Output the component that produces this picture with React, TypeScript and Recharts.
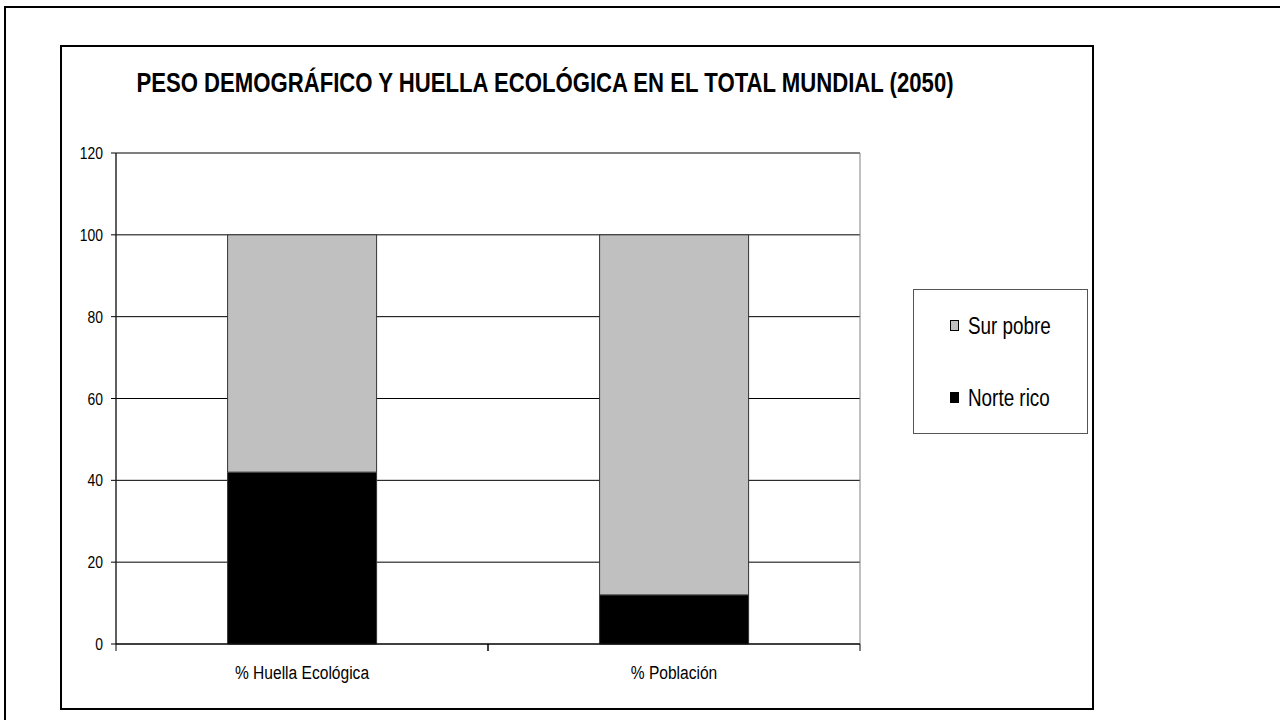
import React from "react";
import {
    BarChart,
    Bar,
    XAxis,
    YAxis,
    CartesianGrid,
    Legend,
    ReferenceArea
} from "recharts";

const categories = ["% Huella Ecológica", "% Población"];
const norteRico = [42, 12];
const surPobre = [58, 88];
const yTicks = [0, 20, 40, 60, 80, 100, 120];

const data = categories.map((category, i) => ({
    category,
    norte: norteRico[i],
    sur: surPobre[i]
}));

// no narrow font installed, so squeeze Liberation Sans horizontally
const FONT = "'Liberation Sans', Arial, sans-serif";
const SQUEEZE = 0.82;

function CategoryTick(props: any) {
    const { x, y, payload } = props;
    const half = payload.offset || 0;
    return (
        <g>
            <line x1={x - half} x2={x - half} y1={y} y2={y + 7} stroke="#000" />
            <line x1={x + half} x2={x + half} y1={y} y2={y + 7} stroke="#000" />
            <text
                transform={`translate(${x},${y + 35}) scale(${SQUEEZE},1)`}
                textAnchor="middle"
                fontSize={19}
                fill="#000"
                fontFamily={FONT}
            >
                {payload.value}
            </text>
        </g>
    );
}

function ValueTick(props: any) {
    const { x, y, payload } = props;
    return (
        <text
            transform={`translate(${x},${y + 6}) scale(${SQUEEZE},1)`}
            textAnchor="end"
            fontSize={17}
            fill="#000"
            fontFamily={FONT}
        >
            {payload.value}
        </text>
    );
}

function LegendBox(props: any) {
    const items = [...(props.payload || [])].reverse();
    return (
        <div style={{
            width: 175,
            height: 145,
            boxSizing: "border-box",
            border: "1px solid #555",
            background: "#fff",
            display: "flex",
            flexDirection: "column",
            justifyContent: "center",
            gap: 46,
            paddingLeft: 36,
            fontFamily: FONT,
            fontSize: 23,
            lineHeight: "26px",
            color: "#000"
        }}>
            {items.map((item: any) => (
                <div key={item.value} style={{ display: "flex", alignItems: "center", gap: 9 }}>
                    <span style={{
                        display: "inline-block",
                        width: 9,
                        height: 11,
                        boxSizing: "border-box",
                        background: item.color,
                        border: "1px solid #000"
                    }} />
                    <span style={{ display: "inline-block", transform: `scaleX(${SQUEEZE})`, transformOrigin: "left center" }}>
                        {item.value}
                    </span>
                </div>
            ))}
        </div>
    );
}

export default function App() {
    return (
        <div style={{ position: "absolute", left: 0, top: 0, width: 1280, height: 720, overflow: "hidden", background: "#fff" }}>
            <div style={{ position: "absolute", left: 4, top: 6, width: 1400, height: 800, border: "2px solid #000" }} />
            <div style={{ position: "absolute", left: 60, top: 45, width: 1030, height: 661, border: "2px solid #000", background: "#fff" }} />
            <div style={{
                position: "absolute",
                left: 0,
                width: 1090,
                top: 68,
                textAlign: "center",
                fontFamily: FONT,
                fontWeight: "bold",
                fontSize: 27,
                lineHeight: "30px",
                color: "#000",
                transform: `scaleX(${SQUEEZE})`,
                transformOrigin: "545px 0"
            }}>
                PESO DEMOGRÁFICO Y HUELLA ECOLÓGICA EN EL TOTAL MUNDIAL (2050)
            </div>
            <div style={{ position: "absolute", left: 61, top: 46 }}>
                <BarChart
                    width={1032}
                    height={663}
                    data={data}
                    margin={{ top: 107, right: 58, left: 0, bottom: 0 }}
                    barCategoryGap="30%"
                >
                    <CartesianGrid vertical={false} stroke="#000" />
                    <ReferenceArea y1={0} y2={120} fill="none" stroke="#808080" />
                    <XAxis
                        dataKey="category"
                        height={65}
                        axisLine={{ stroke: "#000" }}
                        tickLine={false}
                        tickSize={0}
                        tickMargin={0}
                        tick={<CategoryTick />}
                    />
                    <YAxis
                        width={55}
                        domain={[0, 120]}
                        ticks={yTicks}
                        axisLine={{ stroke: "#000" }}
                        tickLine={{ stroke: "#000" }}
                        tickSize={5}
                        tickMargin={8}
                        tick={<ValueTick />}
                    />
                    <Legend
                        layout="vertical"
                        align="right"
                        verticalAlign="middle"
                        content={<LegendBox />}
                        wrapperStyle={{ position: "absolute", left: 852, top: 243, right: "auto", width: 175, height: 145 }}
                    />
                    <Bar dataKey="norte" name="Norte rico" stackId="a" fill="#000" stroke="#333" isAnimationActive={false} />
                    <Bar dataKey="sur" name="Sur pobre" stackId="a" fill="#c0c0c0" stroke="#333" isAnimationActive={false} />
                </BarChart>
            </div>
        </div>
    );
}
